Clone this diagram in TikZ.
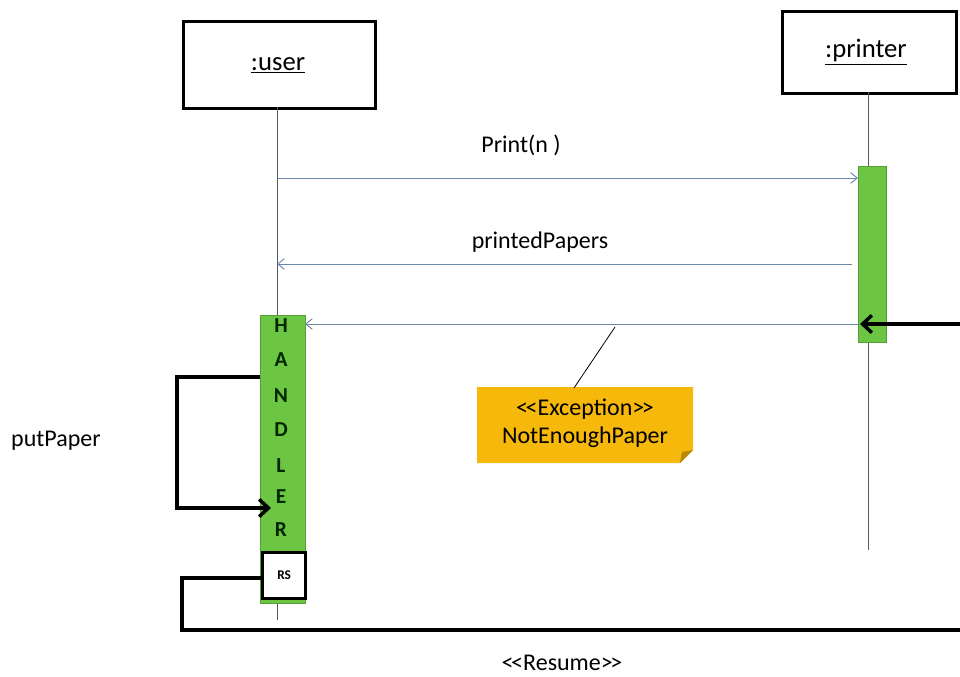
\documentclass[tikz,border=0pt]{standalone}
\usepackage{fontspec}
\setmainfont{Carlito}
\usetikzlibrary{arrows.meta}
\definecolor{msg}{HTML}{6A88A8}
\definecolor{actgreen}{HTML}{6CC644}
\definecolor{noteyellow}{HTML}{F6B80A}
\newcommand{\lt}{<\kern-1.8pt<}
\newcommand{\gt}{>\kern-1.8pt>}
\tikzset{
  objbox/.style={draw=black, line width=2.2pt, fill=white},
  actbar/.style={fill=actgreen, draw=actgreen!80!black, line width=0.4pt},
  lifeline/.style={draw=gray!70!black, line width=0.6pt},
  msgarrow/.style={draw=msg, line width=0.7pt, -{Straight Barb[length=5pt,width=8pt]}},
  thickarrow/.style={draw=black, line width=2.6pt, -{Straight Barb[length=7pt,width=13pt]}},
  thickline/.style={draw=black, line width=2.6pt},
  lbl/.style={font=\fontsize{18}{21}\selectfont, inner sep=0pt},
  boxlbl/.style={font=\fontsize{20}{24}\selectfont, inner sep=0pt},
  hletter/.style={font=\fontsize{16}{18}\selectfont\bfseries, text=black!85!green, inner sep=0pt},
}
\begin{document}
\begin{tikzpicture}[x=0.75pt,y=-0.75pt]
\useasboundingbox (0,0) rectangle (960,677);
% object boxes
\node[objbox, minimum width=192*0.75pt, minimum height=87*0.75pt, anchor=north west, inner sep=0pt] (user) at (182,20) {};
\node[boxlbl] (userl) at (278,65) {\underline{:user}};
\node[objbox, minimum width=174*0.75pt, minimum height=82*0.75pt, anchor=north west, inner sep=0pt] (printer) at (781,10) {};
\node[boxlbl] (printerl) at (866,52) {\underline{:printer}};
% lifelines
\coordinate (ul1) at (277,107);
\coordinate (ul2) at (277,620);
\coordinate (pl1) at (868,92);
\coordinate (pl2) at (868,550);
\draw[lifeline] (ul1) -- (ul2);
\draw[lifeline] (pl1) -- (pl2);
% printer activation
\node[actbar, minimum width=28*0.75pt, minimum height=176*0.75pt, anchor=north west, inner sep=0pt] (pact) at (858,166) {};
% handler activation
\node[actbar, minimum width=45*0.75pt, minimum height=288*0.75pt, anchor=north west, inner sep=0pt] (hact) at (260,315) {};
\foreach \l/\yy [count=\i] in {H/326,A/360,N/396,D/430,L/466,E/497,R/530}
  \node[hletter] (h\i) at (281,\yy) {\l};
% RS box
\node[draw=black, line width=2.4pt, fill=white, minimum width=43*0.75pt, minimum height=46*0.75pt, anchor=north west, inner sep=0pt, font=\fontsize{10}{11}\selectfont\bfseries] (rs) at (261,551) {RS};
% messages
\coordinate (m1s) at (277,178);
\coordinate (m1e) at (858,178);
\draw[msgarrow] (m1s) -- (m1e);
\node[lbl] (m1l) at (521,145) {Print(n )};
\coordinate (m2s) at (852,264);
\coordinate (m2e) at (277,264);
\draw[msgarrow] (m2s) -- (m2e);
\node[lbl] (m2l) at (540,242) {printedPapers};
\coordinate (m3s) at (858,324);
\coordinate (m3e) at (305,324);
\draw[msgarrow] (m3s) -- (m3e);
% external thick arrow into printer
\coordinate (ext) at (960,324);
\coordinate (exte) at (860,324);
\draw[thickarrow] (ext) -- (exte);
% note
\fill[noteyellow] (477,387) -- (693,387) -- (693,450) -- (680,463) -- (477,463) -- cycle;
\fill[noteyellow!75!black] (693,450) -- (680,463) -- (682,452) -- cycle;
\node[lbl, align=center, font=\fontsize{18}{21}\selectfont] (note) at (585,423) {\lt Exception\gt\\NotEnoughPaper};
\coordinate (na1) at (615,327);
\coordinate (na2) at (574,388);
\draw[black, line width=0.6pt] (na1) -- (na2);
% putPaper self loop
\coordinate (pp1) at (260,377);
\coordinate (pp2) at (177,377);
\coordinate (pp3) at (177,508);
\coordinate (pp4) at (271,508);
\draw[thickarrow] (pp1) -- (pp2) -- (pp3) -- (pp4);
\node[lbl] (ppl) at (56,441) {putPaper};
% resume line
\coordinate (rs1) at (182,578);
\coordinate (rs2) at (182,630);
\coordinate (rs3) at (960,630);
\draw[thickline, line join=miter] (rs.west |- 0,578) -- (rs1) -- (rs2) -- (rs3);
\node[lbl] (rsl) at (562,663) {\lt Resume\gt};
\end{tikzpicture}
\end{document}
